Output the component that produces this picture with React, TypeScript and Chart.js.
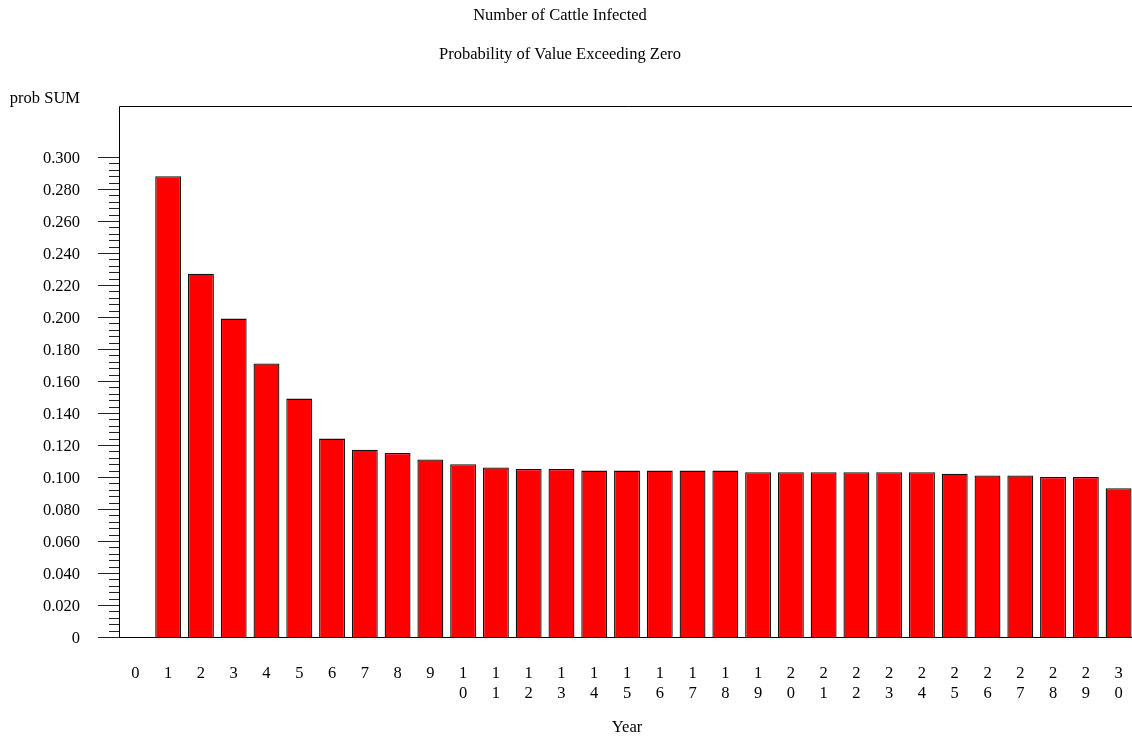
import React, { useEffect, useRef } from "react";
import { Chart, registerables } from "chart.js";

Chart.register(...registerables);

const titleMain = "Number of Cattle Infected";
const titleSub = "Probability of Value Exceeding Zero";
const yAxisTitle = "prob SUM";
const xAxisTitle = "Year";

const years: string[] = Array.from({ length: 31 }, (_, i) => String(i));
const probValues: (number | null)[] = [
  null, 0.288, 0.227, 0.199, 0.171, 0.149, 0.124, 0.117, 0.115, 0.111, 0.108,
  0.106, 0.105, 0.105, 0.104, 0.104, 0.104, 0.104, 0.104, 0.103, 0.103,
  0.103, 0.103, 0.103, 0.103, 0.102, 0.101, 0.101, 0.1, 0.1, 0.093,
];
const yMajorTicks: number[] = [0, 0.02, 0.04, 0.06, 0.08, 0.1, 0.12, 0.14, 0.16, 0.18, 0.2, 0.22, 0.24, 0.26, 0.28, 0.3];
const yMinorStep = 0.004;
const yMax = 0.331875;

const FONT = '16.5px "Liberation Serif", "Times New Roman", serif';

const overlay = {
  id: "overlay",
  afterDraw(chart: any) {
    const ctx: CanvasRenderingContext2D = chart.ctx;
    const area = chart.chartArea;
    const y = chart.scales.y;
    const x = chart.scales.x;
    ctx.save();
    ctx.strokeStyle = "#000";
    ctx.lineWidth = 1;
    // frame
    ctx.beginPath();
    ctx.moveTo(Math.round(area.left) + 0.5, Math.round(area.bottom));
    ctx.lineTo(Math.round(area.left) + 0.5, Math.round(area.top) + 0.5);
    ctx.lineTo(area.right + 2, Math.round(area.top) + 0.5);
    ctx.stroke();
    ctx.beginPath();
    ctx.moveTo(area.left - 21, Math.round(area.bottom) + 0.5);
    ctx.lineTo(area.right + 2, Math.round(area.bottom) + 0.5);
    ctx.stroke();
    // minor ticks
    ctx.strokeStyle = "#222";
    const nMinor = Math.round(0.3 / yMinorStep);
    for (let i = 0; i <= nMinor; i++) {
      const py = Math.round(y.getPixelForValue(i * yMinorStep)) + 0.5;
      ctx.beginPath();
      ctx.moveTo(area.left - 10, py);
      ctx.lineTo(area.left, py);
      ctx.stroke();
    }
    // major ticks + labels
    ctx.font = FONT;
    ctx.fillStyle = "#000";
    ctx.textAlign = "right";
    ctx.textBaseline = "middle";
    yMajorTicks.forEach((v) => {
      const py = Math.round(y.getPixelForValue(v)) + 0.5;
      ctx.beginPath();
      ctx.moveTo(area.left - 21, py);
      ctx.lineTo(area.left, py);
      ctx.stroke();
      ctx.fillText(v === 0 ? "0" : v.toFixed(3), 80, py + 1);
    });
    // y title
    ctx.fillText(yAxisTitle, 80, 99);
    // x labels (stacked digits)
    ctx.textAlign = "center";
    years.forEach((lab, i) => {
      const px = x.getPixelForValue(i);
      const chars = lab.split("");
      chars.forEach((c, k) => {
        ctx.fillText(c, px, 674 + k * 20);
      });
    });
    // titles
    ctx.fillText(titleMain, 560, 16);
    ctx.fillText(titleSub, 560, 55);
    ctx.fillText(xAxisTitle, 627, 728);
    ctx.restore();
  },
};

export default function App() {
  const ref = useRef<HTMLCanvasElement | null>(null);
  useEffect(() => {
    if (!ref.current) return;
    const chart = new Chart(ref.current, {
      type: "bar",
      data: {
        labels: years,
        datasets: [
          {
            data: probValues,
            backgroundColor: "#ff0000",
            borderColor: "#111",
            borderWidth: 1.3,
            barPercentage: 0.79,
            categoryPercentage: 1,
          },
        ],
      },
      options: {
        animation: false,
        responsive: false,
        maintainAspectRatio: false,
        layout: { padding: { left: 119, top: 106, right: 1, bottom: 103 } },
        plugins: { legend: { display: false }, tooltip: { enabled: false }, title: { display: false } },
        scales: {
          x: { display: false, offset: true },
          y: { display: false, min: 0, max: yMax },
        },
      },
      plugins: [overlay],
    });
    return () => chart.destroy();
  }, []);
  return (
    <div style={{ position: "fixed", left: 0, top: 0, width: 1132, height: 740, overflow: "hidden", background: "#fff" }}>
      <canvas ref={ref} width={1136} height={740} style={{ display: "block" }} />
    </div>
  );
}
